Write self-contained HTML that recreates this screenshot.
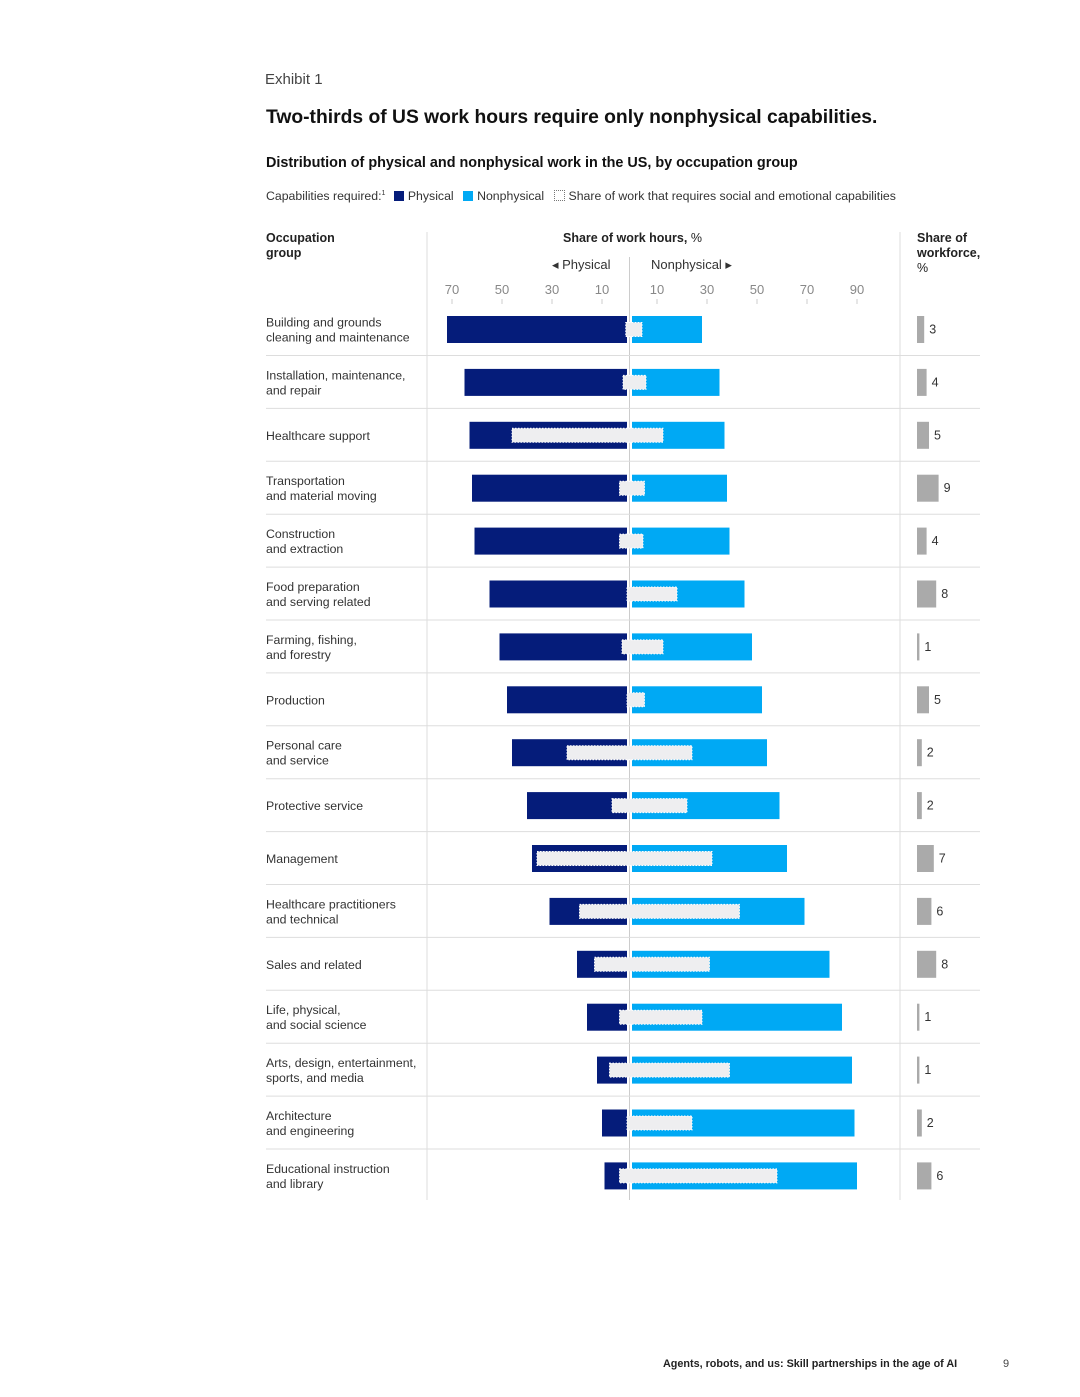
<!DOCTYPE html>
<html><head><meta charset="utf-8"><style>
body{margin:0;background:#fff;font-family:"Liberation Sans",sans-serif;color:#222}
#wrap{position:relative;width:1080px;height:1397px;overflow:hidden}
.t{position:absolute;white-space:nowrap}
</style></head><body>
<div id="wrap">
<div class="t" style="left:265px;top:71px;font-size:15px;color:#444">Exhibit 1</div>
<div class="t" style="left:266px;top:107px;font-size:19.3px;font-weight:bold;color:#111">Two-thirds of US work hours require only nonphysical capabilities.</div>
<div class="t" style="left:266px;top:155px;font-size:14.4px;font-weight:bold;color:#111">Distribution of physical and nonphysical work in the US, by occupation group</div>
<div class="t" style="left:266px;top:189px;font-size:12.3px;color:#333">Capabilities required:<sup style="font-size:7px">1</sup>
<span><span style="display:inline-block;width:10px;height:10px;background:#051c7a;margin:0 4px 0 5px;vertical-align:-1px"></span>Physical</span>
<span><span style="display:inline-block;width:10px;height:10px;background:#00a9f4;margin:0 4px 0 6px;vertical-align:-1px"></span>Nonphysical</span>
<span><span style="display:inline-block;width:9px;height:9px;border:1px dotted #777;margin:0 4px 0 6px;vertical-align:-1px"></span>Share of work that requires social and emotional capabilities</span></div>
<div class="t" style="left:266px;top:231px;font-size:12.5px;font-weight:bold;line-height:15px">Occupation<br>group</div>
<div class="t" style="left:563px;top:231px;font-size:12.5px"><b>Share of work hours,</b> %</div>
<div class="t" style="left:552px;top:257px;font-size:13px;color:#333">◂ Physical</div>
<div class="t" style="left:651px;top:257px;font-size:13px;color:#333">Nonphysical ▸</div>
<div class="t" style="left:917px;top:231px;font-size:12.5px;line-height:15px"><b>Share of<br>workforce,</b><br>%</div>
<svg id="chart" width="1080" height="1397" style="position:absolute;left:0;top:0"></svg>
<div class="t" style="left:663px;top:1358px;font-size:10.8px;font-weight:bold;color:#222">Agents, robots, and us: Skill partnerships in the age of AI</div>
<div class="t" style="left:1003px;top:1358px;font-size:11px;color:#444">9</div>
</div>
<script>
const categories=["Building and grounds\ncleaning and maintenance","Installation, maintenance,\nand repair","Healthcare support","Transportation\nand material moving","Construction\nand extraction","Food preparation\nand serving related","Farming, fishing,\nand forestry","Production","Personal care\nand service","Protective service","Management","Healthcare practitioners\nand technical","Sales and related","Life, physical,\nand social science","Arts, design, entertainment,\nsports, and media","Architecture\nand engineering","Educational instruction\nand library"];
const physical=[72,65,63,62,61,55,51,48,46,40,38,31,20,16,12,10,9];
const nonphysical=[28,35,37,38,39,45,48,52,54,59,62,69,79,84,88,89,90];
const socialPhysical=[0.5,1.6,46,3,3,0,2,0,24,6,36,19,13,3,7,0,3];
const socialNonphysical=[4,5.6,12.4,5,4.4,18,12.4,5,24,22,32,43,31,28,39,24,58];
const workforce=[3,4,5,9,4,8,1,5,2,2,7,6,8,1,1,2,6];
const leftTicks=[70,50,30,10];
const rightTicks=[10,30,50,70,90];
const svg=document.getElementById('chart');
const NS='http://www.w3.org/2000/svg';
const px=2.5, pZero=627, nZero=632;
const xP=v=>pZero-v*px, xN=v=>nZero+v*px;
const rowY=i=>316+i*52.9;
function mk(tag,attrs){const e=document.createElementNS(NS,tag);for(const k in attrs)e.setAttribute(k,attrs[k]);svg.appendChild(e);return e;}
let e;
e=mk('line',{x1:427,x2:427,y1:232,y2:1200,stroke:'#ddd'});


e=mk('line',{x1:900,x2:900,y1:232,y2:1200,stroke:'#ddd'});


e=mk('line',{x1:629.5,x2:629.5,y1:257,y2:1200,stroke:'#ccc'});


leftTicks.forEach(v=>{
 e=mk('text',{x:xP(v),y:294,'font-size':13,fill:'#888','text-anchor':'middle','font-family':'Liberation Sans'});e.textContent=v;
 
 
 e=mk('line',{x1:xP(v),x2:xP(v),y1:299,y2:304,stroke:'#ccc'});
 
 
});
rightTicks.forEach(v=>{
 e=mk('text',{x:xN(v),y:294,'font-size':13,fill:'#888','text-anchor':'middle','font-family':'Liberation Sans'});e.textContent=v;
 
 
 e=mk('line',{x1:xN(v),x2:xN(v),y1:299,y2:304,stroke:'#ccc'});
 
 
});
categories.forEach((c,i)=>{
 const y=rowY(i), cy=y+13.5;
 if(i<categories.length-1){
  e=mk('line',{x1:266,x2:980,y1:y+39.5,y2:y+39.5,stroke:'#ddd'});
  
  
 }
 const lines=c.split('\n');
 e=mk('text',{x:266,y:lines.length>1?cy-3:cy+4.5,'font-size':12.3,fill:'#333','font-family':'Liberation Sans'});
 
 
 lines.forEach((l,k)=>{const t=document.createElementNS(NS,'tspan');t.setAttribute('x',266);if(k>0)t.setAttribute('dy',15);t.textContent=l;e.appendChild(t);});
 e=mk('rect',{x:xP(physical[i]),y:y,width:physical[i]*px,height:27,fill:'#051c7a'});
 
 
 e=mk('rect',{x:nZero,y:y,width:nonphysical[i]*px,height:27,fill:'#00a9f4'});
 
 
 const sx=xP(socialPhysical[i]), ex=xN(socialNonphysical[i]);
 e=mk('rect',{x:sx,y:y+6.5,width:ex-sx,height:14,fill:'#eeeef0',stroke:'#fff','stroke-dasharray':'1.5,1.5','stroke-width':1});
 
 
 e=mk('rect',{x:917,y:y,width:Math.max(2,workforce[i]*2.4),height:27,fill:'#aaa'});
 
 
 e=mk('text',{x:917+Math.max(2,workforce[i]*2.4)+5,y:cy+4,'font-size':12.5,fill:'#333','font-family':'Liberation Sans'});e.textContent=workforce[i];
 
 
});
</script>
</body></html>
